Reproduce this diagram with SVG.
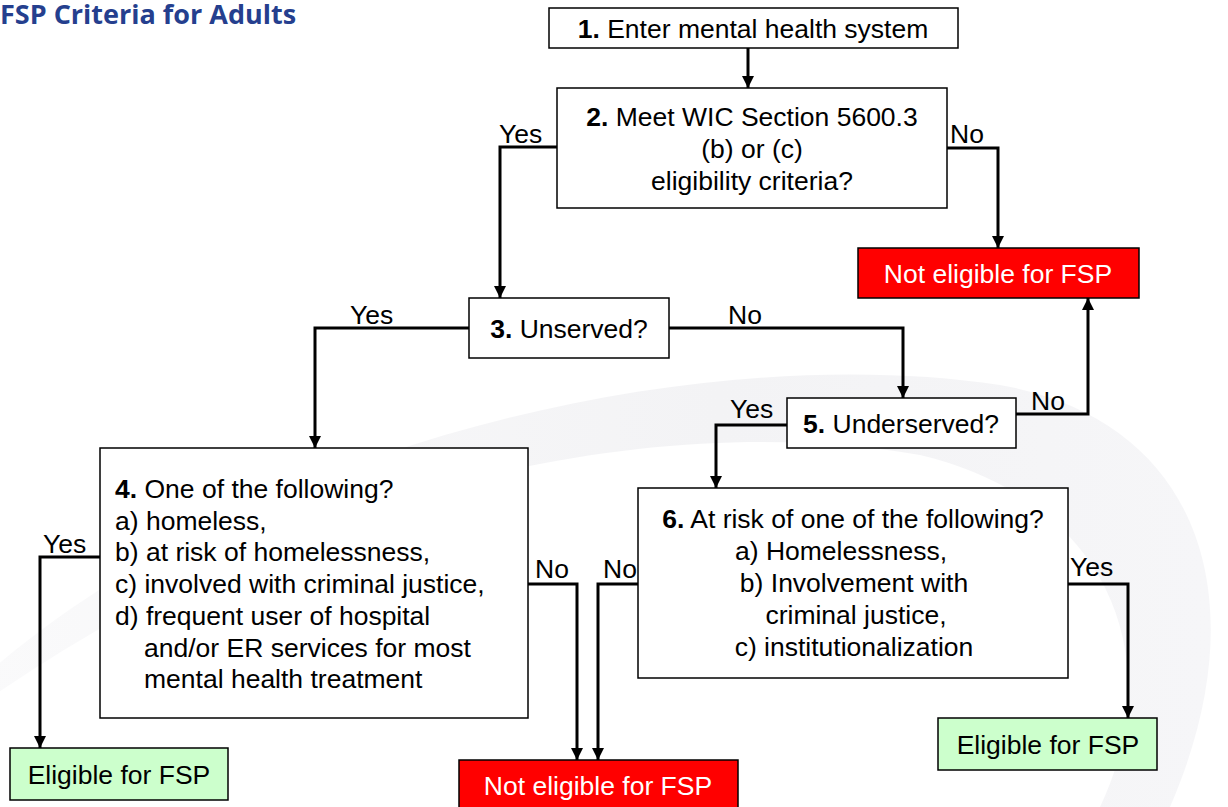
<svg xmlns="http://www.w3.org/2000/svg" width="1228" height="807" viewBox="0 0 1228 807">
<defs>
<marker id="arr" markerUnits="userSpaceOnUse" viewBox="0 0 12 12" refX="12" refY="6" markerWidth="12" markerHeight="12" orient="auto">
<path d="M0,0 L12,6 L0,12 z" fill="#000"/>
</marker>
<linearGradient id="sw" x1="0" y1="0" x2="1" y2="0">
<stop offset="0" stop-color="#fafafb"/>
<stop offset="0.6" stop-color="#f3f3f5"/>
<stop offset="1" stop-color="#f6f6f8"/>
</linearGradient>
</defs>
<style>
text{font-family:"Liberation Sans",Arial,sans-serif;font-size:26.5px;fill:#000}
.box{fill:#fff;stroke:#000;stroke-width:1.5}
.red{fill:#ff0000;stroke:#000;stroke-width:1.5}
.green{fill:#ccffcc;stroke:#000;stroke-width:1.5}
.c{text-anchor:middle}
.w{fill:#fff}
.b{font-weight:bold}
.conn path{fill:none;stroke:#000;stroke-width:3}
.title{font-family:"Open Sans","Liberation Sans",sans-serif;font-weight:bold;font-size:27px;fill:#253f8e}
</style>
<rect width="1228" height="807" fill="#fff"/>
<path d="M-20,680 C250,440 700,340 1000,385 C1200,420 1260,600 1170,807 L1100,807 C1170,660 1110,500 920,455 C660,410 300,480 -20,705 Z" fill="url(#sw)"/>
<text class="title" x="0" y="24">FSP Criteria for Adults</text>

<g class="conn">
<path d="M748,48 V88" marker-end="url(#arr)"/>
<path d="M557,147 H500 V298" marker-end="url(#arr)"/>
<path d="M947,148 H998 V248" marker-end="url(#arr)"/>
<path d="M469,328 H315 V448" marker-end="url(#arr)"/>
<path d="M669,328 H903 V398" marker-end="url(#arr)"/>
<path d="M1016,414 H1088 V298" marker-end="url(#arr)"/>
<path d="M787,425 H716 V488" marker-end="url(#arr)"/>
<path d="M100,557 H40 V748" marker-end="url(#arr)"/>
<path d="M528,584 H577 V760" marker-end="url(#arr)"/>
<path d="M638,584 H598 V760" marker-end="url(#arr)"/>
<path d="M1068,584 H1128 V718" marker-end="url(#arr)"/>
<text x="499" y="143">Yes</text>
<text x="950" y="143">No</text>
<text x="350" y="324">Yes</text>
<text x="728" y="324">No</text>
<text x="1031" y="410">No</text>
<text x="730" y="418">Yes</text>
<text x="43" y="553">Yes</text>
<text x="535" y="578">No</text>
<text x="603" y="578">No</text>
<text x="1070" y="576">Yes</text>
</g>

<g id="n1">
<rect class="box" x="549" y="8" width="409" height="40"/>
<text class="c" x="753" y="38"><tspan class="b">1.</tspan> Enter mental health system</text>
</g>
<g id="n2">
<rect class="box" x="557" y="88" width="390" height="120"/>
<text class="c" x="752" y="126"><tspan class="b">2.</tspan> Meet WIC Section 5600.3</text>
<text class="c" x="752" y="158">(b) or (c)</text>
<text class="c" x="752" y="190">eligibility criteria?</text>
</g>
<g id="ne1">
<rect class="red" x="858" y="248" width="281" height="50"/>
<text class="c w" x="998" y="283">Not eligible for FSP</text>
</g>
<g id="n3">
<rect class="box" x="469" y="298" width="200" height="60"/>
<text class="c" x="569" y="338"><tspan class="b">3.</tspan> Unserved?</text>
</g>
<g id="n5">
<rect class="box" x="787" y="398" width="229" height="50"/>
<text class="c" x="901" y="433"><tspan class="b">5.</tspan> Underserved?</text>
</g>
<g id="n4">
<rect class="box" x="100" y="448" width="428" height="270"/>
<text x="115" y="498"><tspan class="b">4.</tspan> One of the following?</text>
<text x="115" y="530">a) homeless,</text>
<text x="115" y="561">b) at risk of homelessness,</text>
<text x="115" y="593">c) involved with criminal justice,</text>
<text x="115" y="625">d) frequent user of hospital</text>
<text x="144" y="657">and/or ER services for most</text>
<text x="144" y="688">mental health treatment</text>
</g>
<g id="n6">
<rect class="box" x="638" y="488" width="430" height="190"/>
<text class="c" x="853" y="528"><tspan class="b">6.</tspan> At risk of one of the following?</text>
<text class="c" x="841" y="560">a) Homelessness,</text>
<text class="c" x="854" y="592">b) Involvement with</text>
<text class="c" x="856" y="624">criminal justice,</text>
<text class="c" x="854" y="656">c) institutionalization</text>
</g>
<g id="e1">
<rect class="green" x="10" y="748" width="218" height="52"/>
<text class="c" x="119" y="784">Eligible for FSP</text>
</g>
<g id="ne2">
<rect class="red" x="459" y="760" width="279" height="50"/>
<text class="c w" x="598" y="795">Not eligible for FSP</text>
</g>
<g id="e2">
<rect class="green" x="938" y="718" width="219" height="52"/>
<text class="c" x="1048" y="754">Eligible for FSP</text>
</g>
</svg>
